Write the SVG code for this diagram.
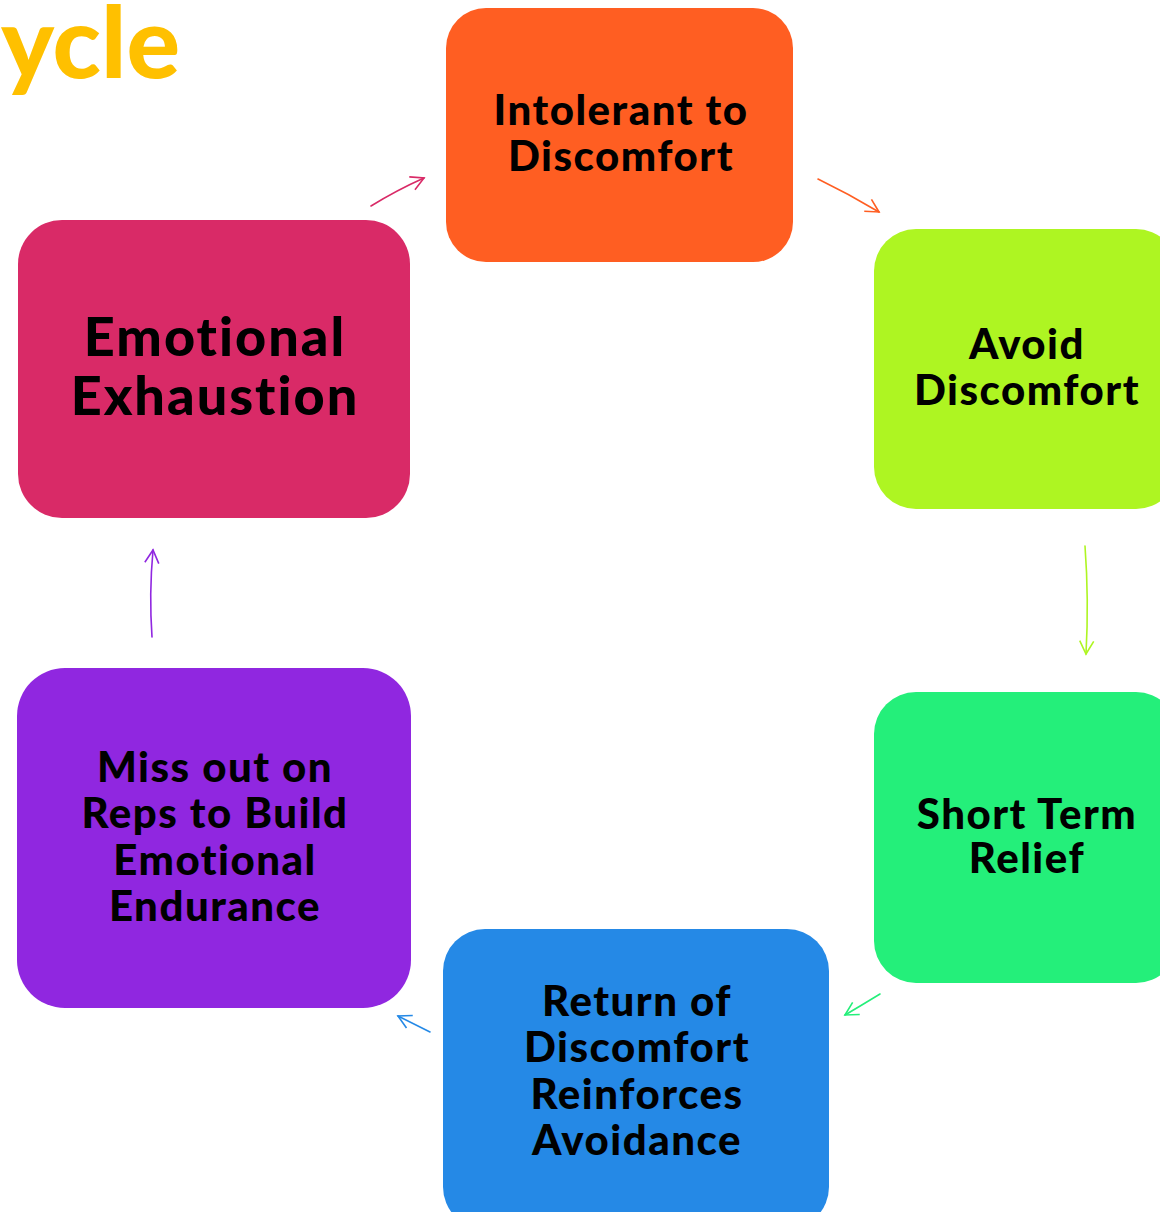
<svg xmlns="http://www.w3.org/2000/svg" width="1160" height="1212" viewBox="0 0 1160 1212">
<defs>
<style>
.t{font-family:Lato,"Liberation Sans",sans-serif;font-weight:900;fill:#000;text-anchor:middle}
.s{font-size:42px;letter-spacing:1.5px}
.b{font-size:54px;letter-spacing:2px}
.c{fill:none;stroke-width:1.6;stroke-linecap:round}
</style>
<marker id="m1" markerUnits="userSpaceOnUse" markerWidth="20" markerHeight="20" refX="0" refY="0" viewBox="-14 -10 16 20" orient="auto"><path d="M-13,-7 L0,0 L-13,7" fill="none" stroke="#D92A67" stroke-width="1.6"/></marker>
<marker id="m2" markerUnits="userSpaceOnUse" markerWidth="20" markerHeight="20" refX="0" refY="0" viewBox="-14 -10 16 20" orient="auto"><path d="M-13,-7 L0,0 L-13,7" fill="none" stroke="#FF5E22" stroke-width="1.6"/></marker>
<marker id="m3" markerUnits="userSpaceOnUse" markerWidth="20" markerHeight="20" refX="0" refY="0" viewBox="-14 -10 16 20" orient="auto"><path d="M-13,-7 L0,0 L-13,7" fill="none" stroke="#AEF522" stroke-width="1.6"/></marker>
<marker id="m4" markerUnits="userSpaceOnUse" markerWidth="20" markerHeight="20" refX="0" refY="0" viewBox="-14 -10 16 20" orient="auto"><path d="M-13,-7 L0,0 L-13,7" fill="none" stroke="#24EF7A" stroke-width="1.6"/></marker>
<marker id="m5" markerUnits="userSpaceOnUse" markerWidth="20" markerHeight="20" refX="0" refY="0" viewBox="-14 -10 16 20" orient="auto"><path d="M-13,-7 L0,0 L-13,7" fill="none" stroke="#2589E6" stroke-width="1.6"/></marker>
<marker id="m6" markerUnits="userSpaceOnUse" markerWidth="20" markerHeight="20" refX="0" refY="0" viewBox="-14 -10 16 20" orient="auto"><path d="M-13,-7 L0,0 L-13,7" fill="none" stroke="#9027E0" stroke-width="1.6"/></marker>
</defs>
<rect width="1160" height="1212" fill="#fff"/>
<text x="180" y="78" font-family="Lato,'Liberation Sans',sans-serif" font-weight="900" font-size="100" fill="#FFC000" text-anchor="end">ycle</text>
<g id="connectors">
<path class="c" stroke="#D92A67" d="M371,206 Q397,190 424,178" marker-end="url(#m1)"/>
<path class="c" stroke="#FF5E22" d="M818,179 Q849,194 879,212" marker-end="url(#m2)"/>
<path class="c" stroke="#AEF522" d="M1085,546 Q1089,600 1086,654" marker-end="url(#m3)"/>
<path class="c" stroke="#24EF7A" d="M880,994 Q862,1005 845,1015" marker-end="url(#m4)"/>
<path class="c" stroke="#2589E6" d="M430,1032 Q414,1024 398,1016" marker-end="url(#m5)"/>
<path class="c" stroke="#9027E0" d="M152,637 Q149,594 153,550" marker-end="url(#m6)"/>
</g>
<g id="n1"><rect x="446" y="8" width="347" height="254" rx="40" fill="#FF5E22"/>
<text class="t s" x="621" y="125">Intolerant to</text><text class="t s" x="621" y="171">Discomfort</text></g>
<g id="n2"><rect x="874" y="229" width="304" height="280" rx="42" fill="#AEF522"/>
<text class="t s" x="1027" y="359">Avoid</text><text class="t s" x="1027" y="405">Discomfort</text></g>
<g id="n3"><rect x="874" y="692" width="304" height="291" rx="42" fill="#24EF7A"/>
<text class="t s" x="1027" y="829">Short Term</text><text class="t s" x="1027" y="873">Relief</text></g>
<g id="n4"><rect x="443" y="929" width="386" height="300" rx="42" fill="#2589E6"/>
<text class="t s" x="637" y="1016">Return of</text><text class="t s" x="637" y="1062">Discomfort</text><text class="t s" x="637" y="1109">Reinforces</text><text class="t s" x="637" y="1155">Avoidance</text></g>
<g id="n5"><rect x="17" y="668" width="394" height="340" rx="48" fill="#9027E0"/>
<text class="t s" x="215" y="782">Miss out on</text><text class="t s" x="215" y="828">Reps to Build</text><text class="t s" x="215" y="875">Emotional</text><text class="t s" x="215" y="921">Endurance</text></g>
<g id="n6"><rect x="18" y="220" width="392" height="298" rx="44" fill="#D92A67"/>
<text class="t b" x="215" y="356">Emotional</text><text class="t b" x="215" y="415">Exhaustion</text></g>
</svg>
